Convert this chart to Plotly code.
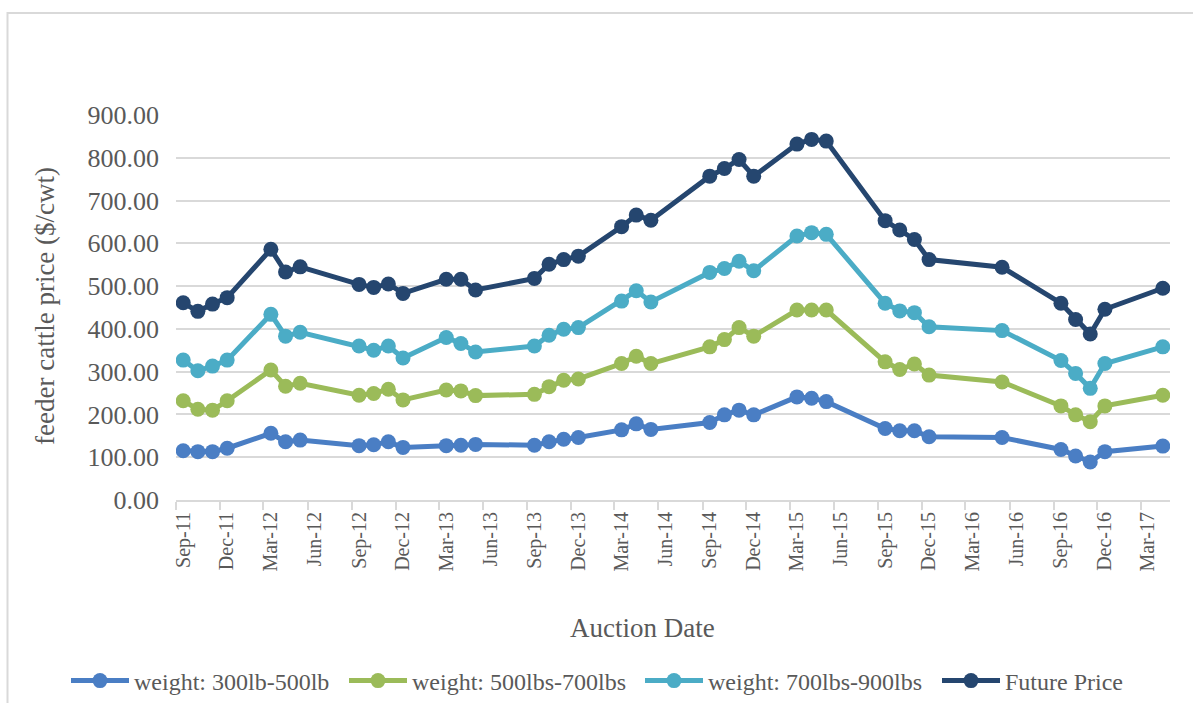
import plotly.graph_objects as go

months = ["2011-09", "2011-10", "2011-11", "2011-12",
          "2012-03", "2012-04", "2012-05", "2012-09", "2012-10", "2012-11", "2012-12",
          "2013-03", "2013-04", "2013-05", "2013-09", "2013-10", "2013-11", "2013-12",
          "2014-03", "2014-04", "2014-05", "2014-09", "2014-10", "2014-11", "2014-12",
          "2015-03", "2015-04", "2015-05", "2015-09", "2015-10", "2015-11", "2015-12",
          "2016-05", "2016-09", "2016-10", "2016-11", "2016-12",
          "2017-04"]

w300_500 = [115, 113, 113, 121, 156, 136, 140, 127, 129, 136, 123, 127, 128, 130,
            128, 136, 142, 146, 164, 178, 165, 181, 199, 210, 199, 241, 238, 230,
            167, 162, 162, 148, 146, 118, 103, 89, 113, 126]
w500_700 = [232, 212, 210, 232, 304, 266, 273, 245, 249, 259, 234, 257, 255, 244,
            247, 265, 280, 283, 319, 336, 319, 358, 375, 403, 383, 444, 444, 444,
            323, 305, 318, 292, 276, 220, 199, 183, 220, 245]
w700_900 = [327, 302, 313, 327, 434, 383, 392, 360, 350, 360, 332, 380, 366, 346,
            360, 385, 399, 403, 465, 489, 463, 532, 541, 558, 536, 617, 625, 621,
            460, 442, 438, 405, 396, 326, 296, 261, 319, 358]
future = [461, 441, 458, 473, 586, 533, 545, 504, 497, 505, 483, 516, 516, 491,
          518, 551, 562, 570, 639, 666, 654, 757, 775, 796, 757, 832, 843, 839,
          653, 631, 609, 562, 544, 460, 422, 388, 446, 495]

series_names = ["weight: 300lb-500lb", "weight: 500lbs-700lbs",
                "weight: 700lbs-900lbs", "Future Price"]
series_values = [w300_500, w500_700, w700_900, future]
series_colors = ["#4A7EC4", "#9BBB59", "#4BACC6", "#25466F"]

tick_months = ["2011-09", "2011-12", "2012-03", "2012-06", "2012-09", "2012-12",
               "2013-03", "2013-06", "2013-09", "2013-12", "2014-03", "2014-06",
               "2014-09", "2014-12", "2015-03", "2015-06", "2015-09", "2015-12",
               "2016-03", "2016-06", "2016-09", "2016-12", "2017-03"]
tick_labels = ["Sep-11", "Dec-11", "Mar-12", "Jun-12", "Sep-12", "Dec-12",
               "Mar-13", "Jun-13", "Sep-13", "Dec-13", "Mar-14", "Jun-14",
               "Sep-14", "Dec-14", "Mar-15", "Jun-15", "Sep-15", "Dec-15",
               "Mar-16", "Jun-16", "Sep-16", "Dec-16", "Mar-17"]

FONT = "Liberation Serif"
TXT = "#595959"
GRID = "#d9d9d9"

legend_ids = ["legend", "legend2", "legend3", "legend4"]
legend_x_px = [66, 344, 640, 937]

fig = go.Figure()
for name, vals, col, lid in zip(series_names, series_values, series_colors, legend_ids):
    fig.add_trace(go.Scatter(
        x=[m + "-01" for m in months], y=vals, name=name,
        xperiod="M1", xperiodalignment="middle",
        mode="lines+markers",
        line=dict(color=col, width=5),
        marker=dict(color=col, size=15, symbol="circle"),
        legend=lid,
    ))

tick_vals = [m + "-16" for m in tick_months]

legend_layout = {}
for lid, lx in zip(legend_ids, legend_x_px):
    legend_layout[lid] = dict(
        orientation="h", xref="container", yref="container",
        x=lx / 1193, xanchor="left", y=(703 - 681) / 703, yanchor="middle",
        font=dict(family=FONT, size=24, color=TXT),
        itemwidth=58, bgcolor="rgba(0,0,0,0)", borderwidth=0,
    )

fig.update_layout(
    width=1193, height=703,
    margin=dict(l=176, r=23, t=115, b=203),
    paper_bgcolor="white", plot_bgcolor="white",
    font=dict(family=FONT, color=TXT),
    showlegend=True,
    xaxis=dict(
        type="date",
        range=["2011-09-01", "2017-05-01"],
        tickmode="array", tickvals=tick_vals, ticktext=tick_labels,
        tickangle=-90, ticks="", ticklabelstandoff=2,
        tickfont=dict(family=FONT, size=20, color=TXT),
        showgrid=False, zeroline=False,
        showline=True, linecolor=GRID, linewidth=2,
        minor=dict(ticks="outside", tick0="2011-09-01", dtick="M3",
                   ticklen=8, tickcolor=GRID, tickwidth=2, showgrid=False),
    ),
    yaxis=dict(
        range=[0, 900], dtick=100, tick0=0, tickformat=".2f",
        tickfont=dict(family=FONT, size=26, color=TXT),
        showgrid=True, gridcolor=GRID, gridwidth=2,
        zeroline=False, showline=False, ticks="", ticklabelstandoff=16,
    ),
    annotations=[
        dict(text="Auction Date", xref="paper", yref="paper",
             x=(642 - 176) / 994, y=(500 - 628) / 385,
             xanchor="center", yanchor="middle", showarrow=False,
             font=dict(family=FONT, size=27, color=TXT)),
        dict(text="feeder cattle price ($/cwt)", xref="paper", yref="paper",
             x=(45 - 176) / 994, y=(500 - 306) / 385, textangle=-90,
             xanchor="center", yanchor="middle", showarrow=False,
             font=dict(family=FONT, size=27, color=TXT)),
    ],
    shapes=[
        dict(type="rect", xref="paper", yref="paper",
             x0=(7.5 - 176) / 994, x1=1.1, y0=-0.6, y1=(500 - 13) / 385,
             line=dict(color=GRID, width=2), fillcolor="rgba(0,0,0,0)", layer="below"),
    ],
    **legend_layout,
)

fig.write_html("out.html")
